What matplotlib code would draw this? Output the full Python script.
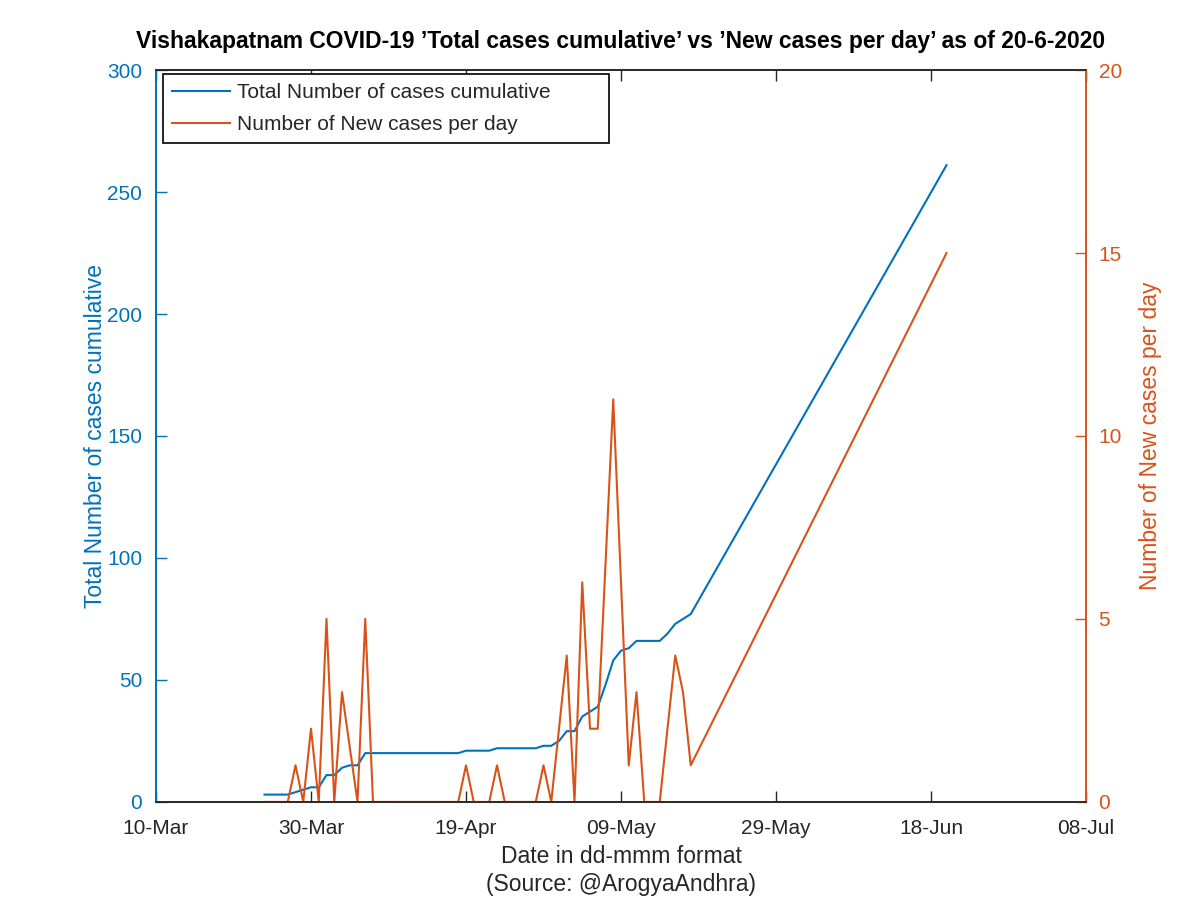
#Vishakapatnam COVID-19 total vs new cases chart
import matplotlib
matplotlib.use("Agg")
import matplotlib.pyplot as plt
import matplotlib.dates as mdates
import numpy as np

plt.rcParams['font.family'] = ['Liberation Sans', 'DejaVu Sans']

#####DATA#####
total_dates = ["2020-03-24", "2020-03-27", "2020-03-28", "2020-03-29", "2020-03-30",
               "2020-03-31", "2020-04-01", "2020-04-02", "2020-04-03", "2020-04-04",
               "2020-04-05", "2020-04-06", "2020-04-18", "2020-04-19", "2020-04-22",
               "2020-04-23", "2020-04-28", "2020-04-29", "2020-04-30", "2020-05-01",
               "2020-05-02", "2020-05-03", "2020-05-04", "2020-05-05", "2020-05-06",
               "2020-05-07", "2020-05-08", "2020-05-09", "2020-05-10", "2020-05-11",
               "2020-05-14", "2020-05-15", "2020-05-16", "2020-05-17", "2020-05-18",
               "2020-06-20"]
total_cases = [3, 3, 4, 5, 6,
               6, 11, 11, 14, 15,
               15, 20, 20, 21, 21,
               22, 22, 23, 23, 25,
               29, 29, 35, 37, 39,
               48, 58, 62, 63, 66,
               66, 69, 73, 75, 77,
               261]

new_dates = ["2020-03-24", "2020-03-27", "2020-03-28", "2020-03-29", "2020-03-30",
             "2020-03-31", "2020-04-01", "2020-04-02", "2020-04-03", "2020-04-05",
             "2020-04-06", "2020-04-07", "2020-04-18", "2020-04-19", "2020-04-20",
             "2020-04-22", "2020-04-23", "2020-04-24", "2020-04-28", "2020-04-29",
             "2020-04-30", "2020-05-02", "2020-05-03", "2020-05-04", "2020-05-05",
             "2020-05-06", "2020-05-08", "2020-05-10", "2020-05-11", "2020-05-12",
             "2020-05-14", "2020-05-16", "2020-05-17", "2020-05-18", "2020-06-20"]
new_cases = [0, 0, 1, 0, 2,
             0, 5, 0, 3, 0,
             5, 0, 0, 1, 0,
             0, 1, 0, 0, 1,
             0, 4, 0, 6, 2,
             2, 11, 1, 3, 0,
             0, 4, 3, 1, 15]

x_ticks = ["2020-03-10", "2020-03-30", "2020-04-19", "2020-05-09",
           "2020-05-29", "2020-06-18", "2020-07-08"]
#####END DATA#####

blue = "#0072BD"
orange = "#D95319"
dark = "#262626"
fs = 15
lfs = 16.5

fig = plt.figure(figsize=(12, 8.98), dpi=100)
ax = fig.add_axes([0.13, 0.107, 0.775, 0.815])
ax2 = ax.twinx()

td = np.array(total_dates, dtype="datetime64[D]")
nd = np.array(new_dates, dtype="datetime64[D]")
xt = np.array(x_ticks, dtype="datetime64[D]")

l1, = ax.plot(td, total_cases, color=blue, lw=1.5)
l2, = ax2.plot(nd, new_cases, color=orange, lw=1.5)

ax.set_xlim(xt[0], xt[-1])
ax.set_xticks(xt)
ax.xaxis.set_major_formatter(mdates.DateFormatter("%d-%b"))
ax.set_ylim(0, 300)
ax.set_yticks(np.arange(0, 301, 50))
ax2.set_ylim(0, 20)
ax2.set_yticks(np.arange(0, 21, 5))

ax.tick_params(axis="x", direction="in", length=8, width=1, colors=dark,
               labelsize=fs, top=True, pad=12)
ax.tick_params(axis="y", direction="in", length=8, width=1, colors=blue,
               labelsize=fs, pad=10)
ax2.tick_params(axis="y", direction="in", length=8, width=1, colors=orange,
                labelsize=fs, pad=9)

for a in (ax, ax2):
    a.spines["top"].set_color(dark)
    a.spines["bottom"].set_color(dark)
    a.spines["left"].set_color(blue)
    a.spines["right"].set_color(orange)
    for s in a.spines.values():
        s.set_linewidth(1.2)

ax.set_ylabel("Total Number of cases cumulative", color=blue, fontsize=lfs, labelpad=0)
ax2.set_ylabel("Number of New cases per day", color=orange, fontsize=lfs, labelpad=12)
ax.set_xlabel("Date in dd-mmm format\n(Source: @ArogyaAndhra)", color=dark,
              fontsize=lfs, labelpad=5, linespacing=1.3)
ax.set_title("Vishakapatnam COVID-19 \u2019Total cases cumulative\u2019 vs "
             "\u2019New cases per day\u2019 as of 20-6-2020",
             fontsize=lfs, fontweight="bold", color="black", pad=16)

# legend box stretched like the original (wider than its text)
leg = ax.legend([l1, l2], ["Total Number of cases cumulative", "Number of New cases per day"],
                loc="upper left", bbox_to_anchor=(0.0075, 0.9945, 0.48, 0.0),
                mode="expand", fontsize=fs, fancybox=False, framealpha=1,
                edgecolor="black", handlelength=2.75, handletextpad=0.35,
                borderaxespad=0.0, borderpad=0.45, labelspacing=0.6)
leg.get_frame().set_linewidth(1.2)
for t in leg.get_texts():
    t.set_color(dark)

fig.savefig("out.png", dpi=100)
